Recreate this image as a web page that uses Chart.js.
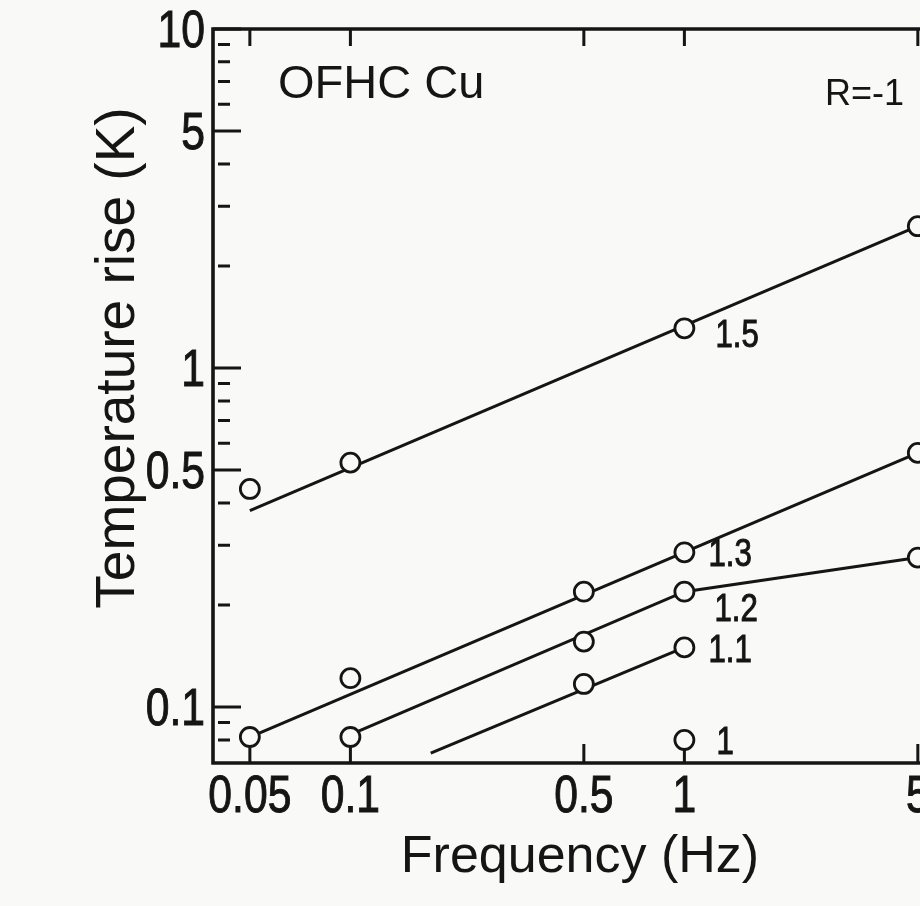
<!DOCTYPE html>
<html>
<head>
<meta charset="utf-8">
<title>OFHC Cu temperature rise</title>
<script src="https://cdn.jsdelivr.net/npm/chart.js@4.4.1/dist/chart.umd.min.js"></script>
<style>
  html, body { margin: 0; padding: 0; background: #f9f9f8; overflow: hidden; }
  #wrap { width: 1000px; height: 906px; }
</style>
</head>
<body>
<div id="wrap"><canvas id="chart" width="1000" height="906"></canvas></div>
<script>
// measured temperature rise (K) against loading frequency (Hz), one pair per stress level
var freq15 = [0.05, 0.1, 1, 5];
var rise15 = [0.44, 0.526, 1.31, 2.62];
var freq13 = [0.05, 0.1, 0.5, 1, 5];
var rise13 = [0.0816, 0.1217, 0.219, 0.286, 0.562];
var freq12 = [0.1, 0.5, 1, 5];
var rise12 = [0.0816, 0.156, 0.219, 0.276];
var freq11 = [0.5, 1];
var rise11 = [0.117, 0.150];
var freq10 = [1];
var rise10 = [0.080];

// hand-drawn trend lines through each set
var lineFreq15 = [0.05, 5];
var lineRise15 = [0.38, 2.62];
var lineFreq13 = [0.05, 5];
var lineRise13 = [0.0816, 0.562];
var lineFreq12 = [0.1, 1, 5];
var lineRise12 = [0.083, 0.219, 0.276];
var lineFreq11 = [0.174, 1];
var lineRise11 = [0.0732, 0.150];

var seriesNames = ['1.5', '1.3', '1.2', '1.1', '1'];

var xTickValues = [0.05, 0.1, 0.5, 1, 5];
var xTickLabels = ['0.05', '0.1', '0.5', '1', '5'];
var yTickValues = [0.1, 0.5, 1, 5, 10];
var yTickLabels = ['0.1', '0.5', '1', '5', '10'];
var yMinorTicks = [0.08, 0.09, 0.2, 0.3, 0.4, 0.6, 0.7, 0.8, 0.9, 2, 3, 4, 6, 7, 8, 9];

var INK = '#151515';
var PAPER = '#f9f9f8';
var TEXT_FONT = '"Liberation Sans", Arial, sans-serif';
var SQUASH = 0.82;   // the lettering uses narrow figures

function pairs(xs, ys) {
  return xs.map(function (x, i) { return { x: x, y: ys[i] }; });
}

// figures are drawn horizontally squeezed, with a thin outline to keep the stems heavy
function narrowText(ctx, text, x, y, align) {
  ctx.save();
  ctx.translate(x, y);
  ctx.scale(SQUASH, 1);
  ctx.textAlign = align;
  ctx.fillText(text, 0, 0);
  ctx.strokeStyle = INK;
  ctx.lineWidth = 1;
  ctx.strokeText(text, 0, 0);
  ctx.restore();
}

var pointFreqs = [freq15, freq13, freq12, freq11, freq10];
var pointRises = [rise15, rise13, rise12, rise11, rise10];
var lineFreqs = [lineFreq15, lineFreq13, lineFreq12, lineFreq11];
var lineRises = [lineRise15, lineRise13, lineRise12, lineRise11];

var datasets = [];
lineFreqs.forEach(function (xs, i) {
  datasets.push({
    label: seriesNames[i] + ' line',
    data: pairs(xs, lineRises[i]),
    showLine: true,
    borderColor: INK,
    borderWidth: 3,
    pointRadius: 0,
    tension: 0,
    order: 2
  });
});
pointFreqs.forEach(function (xs, i) {
  datasets.push({
    label: seriesNames[i],
    data: pairs(xs, pointRises[i]),
    showLine: false,
    pointRadius: 9.5,
    pointBorderWidth: 2.8,
    pointBorderColor: INK,
    pointBackgroundColor: PAPER,
    order: 1
  });
});

// inward tick marks, tick labels and the frame
var frameTicks = {
  id: 'frameTicks',
  beforeDatasetsDraw: function (chart) {
    var ctx = chart.ctx, a = chart.chartArea;
    var xs = chart.scales.x, ys = chart.scales.y;
    ctx.save();
    ctx.strokeStyle = INK;
    ctx.lineWidth = 3;
    ctx.beginPath();
    xTickValues.forEach(function (v) {
      var px = xs.getPixelForValue(v);
      ctx.moveTo(px, a.bottom);
      ctx.lineTo(px, a.bottom - 19);
      ctx.moveTo(px, a.top);
      ctx.lineTo(px, a.top + 17);
    });
    yTickValues.forEach(function (v) {
      var py = ys.getPixelForValue(v);
      ctx.moveTo(a.left, py);
      ctx.lineTo(a.left + 28, py);
    });
    yMinorTicks.forEach(function (v) {
      var py = ys.getPixelForValue(v);
      ctx.moveTo(a.left + 5, py);
      ctx.lineTo(a.left + 17, py);
    });
    ctx.stroke();

    ctx.fillStyle = INK;
    ctx.font = '52px ' + TEXT_FONT;
    ctx.textBaseline = 'alphabetic';
    xTickValues.forEach(function (v, i) {
      narrowText(ctx, xTickLabels[i], xs.getPixelForValue(v), a.bottom + 49, 'center');
    });
    yTickValues.forEach(function (v, i) {
      narrowText(ctx, yTickLabels[i], a.left - 8, ys.getPixelForValue(v) + 18, 'right');
    });
    ctx.restore();
  },
  afterDatasetsDraw: function (chart) {
    var ctx = chart.ctx, a = chart.chartArea;
    ctx.save();
    ctx.strokeStyle = INK;
    ctx.lineWidth = 3.6;
    ctx.beginPath();
    ctx.moveTo(a.right, a.top);
    ctx.lineTo(a.left, a.top);
    ctx.lineTo(a.left, a.bottom);
    ctx.lineTo(a.right, a.bottom);
    ctx.stroke();
    ctx.restore();
  }
};

// axis titles, material name, load ratio and the stress level beside each 1 Hz point
var annotate = {
  id: 'annotate',
  afterDraw: function (chart, args, opts) {
    var ctx = chart.ctx;
    var xs = chart.scales.x, ys = chart.scales.y;
    ctx.save();
    ctx.fillStyle = INK;

    ctx.font = '38px ' + TEXT_FONT;
    ctx.textBaseline = 'alphabetic';
    seriesNames.forEach(function (name, i) {
      var k = pointFreqs[i].indexOf(1);
      var px = xs.getPixelForValue(1);
      var py = ys.getPixelForValue(pointRises[i][k]);
      var off = opts.labelOffsets[i];
      narrowText(ctx, name, px + off[0], py + off[1] + 13, 'left');
    });

    ctx.textAlign = 'left';
    ctx.font = '47px ' + TEXT_FONT;
    ctx.fillText('OFHC Cu', 278, 98);
    ctx.font = '36px ' + TEXT_FONT;
    ctx.fillText('R=-1', 825, 105);

    ctx.textAlign = 'center';
    ctx.font = '52px ' + TEXT_FONT;
    ctx.fillText('Frequency (Hz)', 580, 872);

    ctx.translate(134, 358);
    ctx.rotate(-Math.PI / 2);
    ctx.font = '55px ' + TEXT_FONT;
    ctx.fillText('Temperature rise (K)', 0, 0);
    ctx.restore();
  }
};

function noEdgePadding(scale) {
  scale.paddingTop = 0;
  scale.paddingBottom = 0;
  scale.paddingLeft = 0;
  scale.paddingRight = 0;
}

var chart = new Chart(document.getElementById('chart'), {
  type: 'scatter',
  data: { datasets: datasets },
  plugins: [frameTicks, annotate],
  options: {
    responsive: false,
    animation: false,
    layout: { autoPadding: false, padding: { top: 29, right: 0, bottom: 0, left: 0 } },
    plugins: {
      legend: { display: false },
      tooltip: { enabled: false },
      annotate: {
        labelOffsets: [[31, 6], [24, 1], [30, 16], [24, 2], [32, 1]]
      }
    },
    scales: {
      x: {
        type: 'logarithmic',
        position: 'bottom',
        min: 0.03878,
        max: 8.81,
        grid: { display: false },
        border: { display: false },
        ticks: { display: false },
        afterBuildTicks: function (scale) {
          scale.ticks = xTickValues.map(function (v) { return { value: v }; });
        },
        afterFit: function (scale) {
          scale.height = 143;
          noEdgePadding(scale);
        }
      },
      y: {
        type: 'logarithmic',
        position: 'left',
        min: 0.0684,
        max: 10,
        grid: { display: false },
        border: { display: false },
        ticks: { display: false },
        afterBuildTicks: function (scale) {
          scale.ticks = yTickValues.map(function (v) { return { value: v }; });
        },
        afterFit: function (scale) {
          scale.width = 213;
          noEdgePadding(scale);
        }
      }
    }
  }
});
</script>
</body>
</html>
